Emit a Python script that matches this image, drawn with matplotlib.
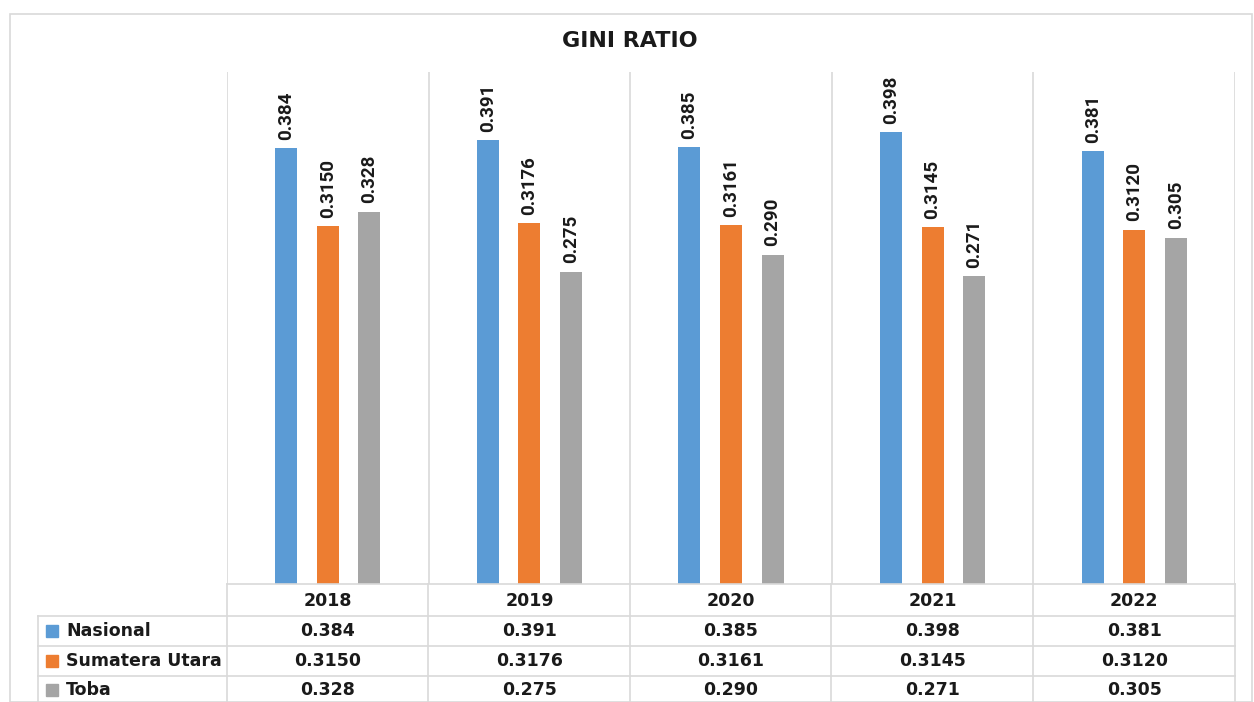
import matplotlib
matplotlib.use("Agg")
import matplotlib.pyplot as plt
from matplotlib.patches import Rectangle
import numpy as np

# data
years = ["2018", "2019", "2020", "2021", "2022"]
nasional = [0.384, 0.391, 0.385, 0.398, 0.381]
sumut = [0.3150, 0.3176, 0.3161, 0.3145, 0.3120]
toba = [0.328, 0.275, 0.290, 0.271, 0.305]
series_names = ["Nasional", "Sumatera Utara", "Toba"]
series_labels = [["0.384", "0.391", "0.385", "0.398", "0.381"],
                 ["0.3150", "0.3176", "0.3161", "0.3145", "0.3120"],
                 ["0.328", "0.275", "0.290", "0.271", "0.305"]]
colors = ["#5B9BD5", "#ED7D31", "#A5A5A5"]
grid_c = "#D9D9D9"

W, H = 1254, 702
fig = plt.figure(figsize=(W / 100, H / 100), dpi=100)

# outer chart border
fig.patches.append(Rectangle((10 / W, 0), (1252 - 10) / W, (H - 14) / H,
                             transform=fig.transFigure, fill=False,
                             edgecolor=grid_c, lw=1.2))

x0, x1, y_top, y_base = 227, 1235, 72, 584
ax = fig.add_axes([x0 / W, (H - y_base) / H, (x1 - x0) / W, (y_base - y_top) / H])
ax.set_xlim(-0.5, 4.5)
ax.set_ylim(0, 0.451)
for s in ax.spines.values():
    s.set_visible(False)
ax.set_xticks([])
ax.set_yticks([])
ax.patch.set_alpha(0)

x = np.arange(len(years))
width = 0.109
offset = 0.206
values = [nasional, sumut, toba]
label_font = ["Liberation Sans Narrow", "Roboto", "DejaVu Sans"]
for i, (vals, c) in enumerate(zip(values, colors)):
    xs = x + (i - 1) * offset
    ax.bar(xs, vals, width, color=c, zorder=3)
    for xi, v, lab in zip(xs, vals, series_labels[i]):
        ax.annotate(lab, (xi, v), xytext=(0, 6), textcoords="offset points",
                    rotation=90, ha="center", va="bottom", fontsize=13.5,
                    fontweight="bold", family=label_font, color="#1a1a1a")

# category separators in plot area
for b in np.arange(-0.5, 5.0, 1.0):
    ax.axvline(b, color=grid_c, lw=1.2, zorder=1)

line_kw = dict(color=grid_c, lw=1.2, clip_on=False, transform=fig.transFigure)


def fy(py):
    return (H - py) / H


def fx(px):
    return px / W


# data table drawn below the plot area
row_lines = [584, 616, 646, 676]
for k, py in enumerate(row_lines):
    left = 227 if k == 0 else 38
    fig.add_artist(plt.Line2D([fx(left), fx(1235)], [fy(py), fy(py)], **line_kw))
for px in [227, 428, 630, 831, 1033, 1235]:
    fig.add_artist(plt.Line2D([fx(px), fx(px)], [fy(584), 0], **line_kw))
fig.add_artist(plt.Line2D([fx(38), fx(38)], [fy(616), 0], **line_kw))

tab_font = dict(fontsize=12.5, fontweight="bold", color="#1a1a1a",
                family="DejaVu Sans", transform=fig.transFigure)
cat_px = [x0 + (x1 - x0) * (i + 0.5) / len(years) for i in range(len(years))]
for cx, yr in zip(cat_px, years):
    fig.text(fx(cx), fy(601), yr, ha="center", va="center", **tab_font)

row_centers = [631, 661, 690]
for r, (name, c, labs) in enumerate(zip(series_names, colors, series_labels)):
    cy = row_centers[r]
    fig.patches.append(Rectangle((fx(46), fy(cy + 6)), 12 / W, 12 / H,
                                 transform=fig.transFigure, color=c))
    fig.text(fx(66), fy(cy), name, ha="left", va="center", **tab_font)
    for cx, lab in zip(cat_px, labs):
        fig.text(fx(cx), fy(cy), lab, ha="center", va="center", **tab_font)

fig.text(fx(630), fy(41), "GINI RATIO", ha="center", va="center",
         fontsize=16, fontweight="bold", family="DejaVu Sans", color="#1a1a1a")

fig.savefig("out.png", dpi=100)
